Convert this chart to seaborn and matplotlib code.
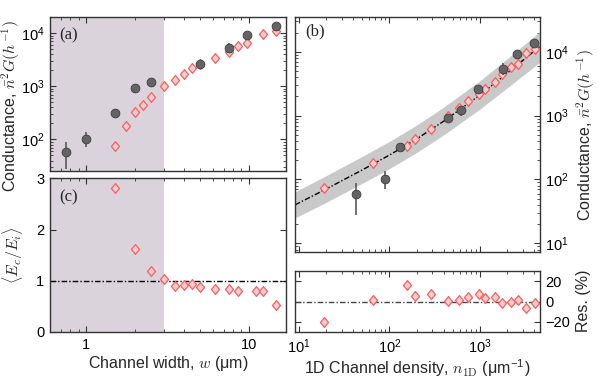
import numpy as np
import pandas as pd
import matplotlib
matplotlib.use("Agg")
import matplotlib.pyplot as plt
from matplotlib.path import Path
from matplotlib.ticker import FixedLocator, NullFormatter, FuncFormatter
import seaborn as sns

# ---------------- data ----------------
# gray circles: channel width w (um), 1D density n (um^-1), conductance G
w_circ = [0.757, 1.0, 1.5, 2.0, 2.5, 5.0, 7.5, 9.8, 14.6]
n_circ = [43, 89, 132, 445, 626, 950, 1820, 2570, 3960]
G_circ = [59, 103, 320, 930, 1230, 2640, 5300, 9200, 13700]
G_circ_lo = [28, 72, 300, 890, 1000, 2500, 4300, 8300, 13000]
G_circ_hi = [89, 135, 340, 970, 1350, 2800, 6600, 10000, 14500]

# pink diamonds
w_dia = [1.5, 1.75, 2.0, 2.25, 2.5, 3.0, 3.5, 4.0, 4.5, 5.0, 6.2, 7.5, 8.6, 9.8, 12.2, 14.6]
n_dia = [18.8, 66, 157, 191, 286, 449, 594, 748, 993, 1148, 1480, 1755, 2220, 2680, 3250, 4150]
G_dia = [74, 179, 332, 436, 623, 1000, 1340, 1705, 2185, 2620, 3415, 4460, 5720, 6520, 9500, 11200]
res_dia = [-20, 1.3, 16.3, 5.3, 7.3, 0.7, 2.0, 4.7, 8.0, 3.7, 4.7, -1.0, -0.3, 1.3, -6.3, -1.0]

# panel (c): <Ec/Ei>
w_ratio = [1.5, 2.0, 2.5, 3.0, 3.5, 4.0, 4.5, 5.0, 6.2, 7.5, 8.6, 11.0, 12.2, 14.7]
ratio = [2.82, 1.62, 1.19, 1.03, 0.89, 0.91, 0.93, 0.87, 0.84, 0.84, 0.80, 0.80, 0.80, 0.52]

# fit curve and its band (panel b)
fit_n = [9, 20, 50, 100, 200, 400, 1000, 2000, 4600]
fit_G = [40, 71, 141, 241, 431, 820, 2090, 4570, 12000]
band_lo = [25, 44, 87, 148, 264, 500, 1260, 2700, 6800]
band_hi = [64, 115, 230, 395, 710, 1360, 3500, 7700, 20500]

w_shade_max = 3.0

# ---------------- style ----------------
sns.set_theme(style="ticks")
plt.rcParams['font.family'] = ['Liberation Sans', 'DejaVu Sans']
plt.rcParams['mathtext.fontset'] = 'cm'
plt.rcParams['axes.linewidth'] = 1.0
plt.rcParams['axes.edgecolor'] = '#333333'

DIA_FACE = '#e6cfd2'
DIA_EDGE = '#ff5c5c'
CIRC_FACE = '#646464'
CIRC_EDGE = '#3c3c3c'
SHADE = '#dbd3db'
BAND = '#c9c9c9'

diamond = Path([(0, 1), (0.82, 0), (0, -1), (-0.82, 0), (0, 1)],
               [Path.MOVETO, Path.LINETO, Path.LINETO, Path.LINETO, Path.CLOSEPOLY])

fig = plt.figure(figsize=(5.98, 3.86), dpi=100)
ax_a = fig.add_axes([0.0836, 0.557, 0.3946, 0.399])
ax_c = fig.add_axes([0.0836, 0.140, 0.3946, 0.3976])
ax_b = fig.add_axes([0.4933, 0.347, 0.4089, 0.608])
ax_r = fig.add_axes([0.4933, 0.141, 0.4089, 0.1575])

TICK_FS = 10.5
LAB_FS = 11.5
DASHDOT = (0, (4, 1.5, 1, 1.5))


def style_ticks(ax):
    ax.tick_params(which='both', direction='in', top=True, right=True,
                   colors='#333333', labelcolor='black', labelsize=TICK_FS)
    ax.tick_params(which='major', length=4, width=0.8, pad=4)
    ax.tick_params(which='minor', length=2, width=0.6)


def plain_fmt(v, pos):
    return '%g' % v


def diamonds(ax, x, y):
    sns.scatterplot(x=x, y=y, ax=ax, marker=diamond, s=50, color=DIA_FACE,
                    edgecolor=DIA_EDGE, linewidth=0.9, zorder=3, legend=False)


def circles(ax, x, y, lo, hi):
    y = np.asarray(y, float)
    err = [y - np.asarray(lo), np.asarray(hi) - y]
    ax.errorbar(x, y, yerr=err, fmt='none', ecolor='#5a5a5a', elinewidth=1.2,
                capsize=0, zorder=3.5)
    sns.scatterplot(x=x, y=y, ax=ax, marker='o', s=40, color=CIRC_FACE,
                    edgecolor=CIRC_EDGE, linewidth=0.6, zorder=4, legend=False)


# ---------------- panel (a) ----------------
ax_a.set_xscale('log')
ax_a.set_yscale('log')
ax_a.axvspan(0.3, w_shade_max, color=SHADE, lw=0, zorder=0)
diamonds(ax_a, w_dia, G_dia)
circles(ax_a, w_circ, G_circ, G_circ_lo, G_circ_hi)
ax_a.set_xlim(0.6, 16.9)
ax_a.set_ylim(25.4, 20200)
style_ticks(ax_a)
ax_a.tick_params(axis='x', which='both', labelbottom=False)
ax_a.set_ylabel(r'Conductance, $\bar{n}^2G(h^{-1})$', fontsize=LAB_FS, labelpad=2)
ax_a.yaxis.set_label_coords(-0.118, 0.42)
ax_a.text(0.04, 0.93, '(a)', transform=ax_a.transAxes, fontsize=12,
          family=['Liberation Serif', 'DejaVu Serif'], va='top', ha='left')

# ---------------- panel (c) ----------------
ax_c.set_xscale('log')
ax_c.axvspan(0.3, w_shade_max, color=SHADE, lw=0, zorder=0)
ax_c.axhline(1.0, color='black', lw=1.0, linestyle=DASHDOT, zorder=2)
diamonds(ax_c, w_ratio, ratio)
ax_c.set_xlim(0.6, 16.9)
ax_c.set_ylim(0, 3)
ax_c.yaxis.set_major_locator(FixedLocator([0, 1, 2, 3]))
ax_c.xaxis.set_major_formatter(FuncFormatter(plain_fmt))
ax_c.xaxis.set_minor_formatter(NullFormatter())
style_ticks(ax_c)
ax_c.set_xlabel(r'Channel width, $w$ (μm)', fontsize=LAB_FS, labelpad=2)
ax_c.set_ylabel(r'$\langle E_c/E_i\rangle$', fontsize=LAB_FS, labelpad=8)
ax_c.text(0.04, 0.93, '(c)', transform=ax_c.transAxes, fontsize=12,
          family=['Liberation Serif', 'DejaVu Serif'], va='top', ha='left')

# ---------------- panel (b) ----------------
ax_b.set_xscale('log')
ax_b.set_yscale('log')
ax_b.fill_between(fit_n, band_lo, band_hi, color=BAND, lw=0, zorder=1)
ax_b.plot(fit_n, fit_G, color='black', lw=1.0, linestyle=DASHDOT, zorder=2)
diamonds(ax_b, n_dia, G_dia)
circles(ax_b, n_circ, G_circ, G_circ_lo, G_circ_hi)
ax_b.set_xlim(9.0, 4600)
ax_b.set_ylim(7.3, 34600)
style_ticks(ax_b)
ax_b.tick_params(axis='x', which='both', labelbottom=False)
ax_b.tick_params(axis='y', which='both', labelleft=False, labelright=True)
ax_b.yaxis.set_label_position('right')
ax_b.set_ylabel(r'Conductance, $\bar{n}^2G(h^{-1})$', fontsize=LAB_FS, labelpad=4)
ax_b.text(0.04, 0.975, '(b)', transform=ax_b.transAxes, fontsize=12,
          family=['Liberation Serif', 'DejaVu Serif'], va='top', ha='left')

# ---------------- residuals ----------------
ax_r.set_xscale('log')
ax_r.axhline(0.0, color='#444444', lw=1.0, linestyle=DASHDOT, zorder=2)
diamonds(ax_r, n_dia, res_dia)
ax_r.set_xlim(9.0, 4600)
ax_r.set_ylim(-29.5, 30.5)
ax_r.yaxis.set_major_locator(FixedLocator([-20, 0, 20]))
style_ticks(ax_r)
ax_r.tick_params(axis='y', which='both', labelleft=False, labelright=True)
ax_r.yaxis.set_label_position('right')
ax_r.set_ylabel('Res. (%)', fontsize=LAB_FS, labelpad=4)
ax_r.set_xlabel(r'1D Channel density, $n_{\rm 1D}$ (μm$^{\mathdefault{-1}}$)',
                fontsize=LAB_FS, labelpad=1)

for ax in (ax_a, ax_b, ax_c, ax_r):
    for s in ax.spines.values():
        s.set_visible(True)

fig.savefig('out.png', dpi=100)
